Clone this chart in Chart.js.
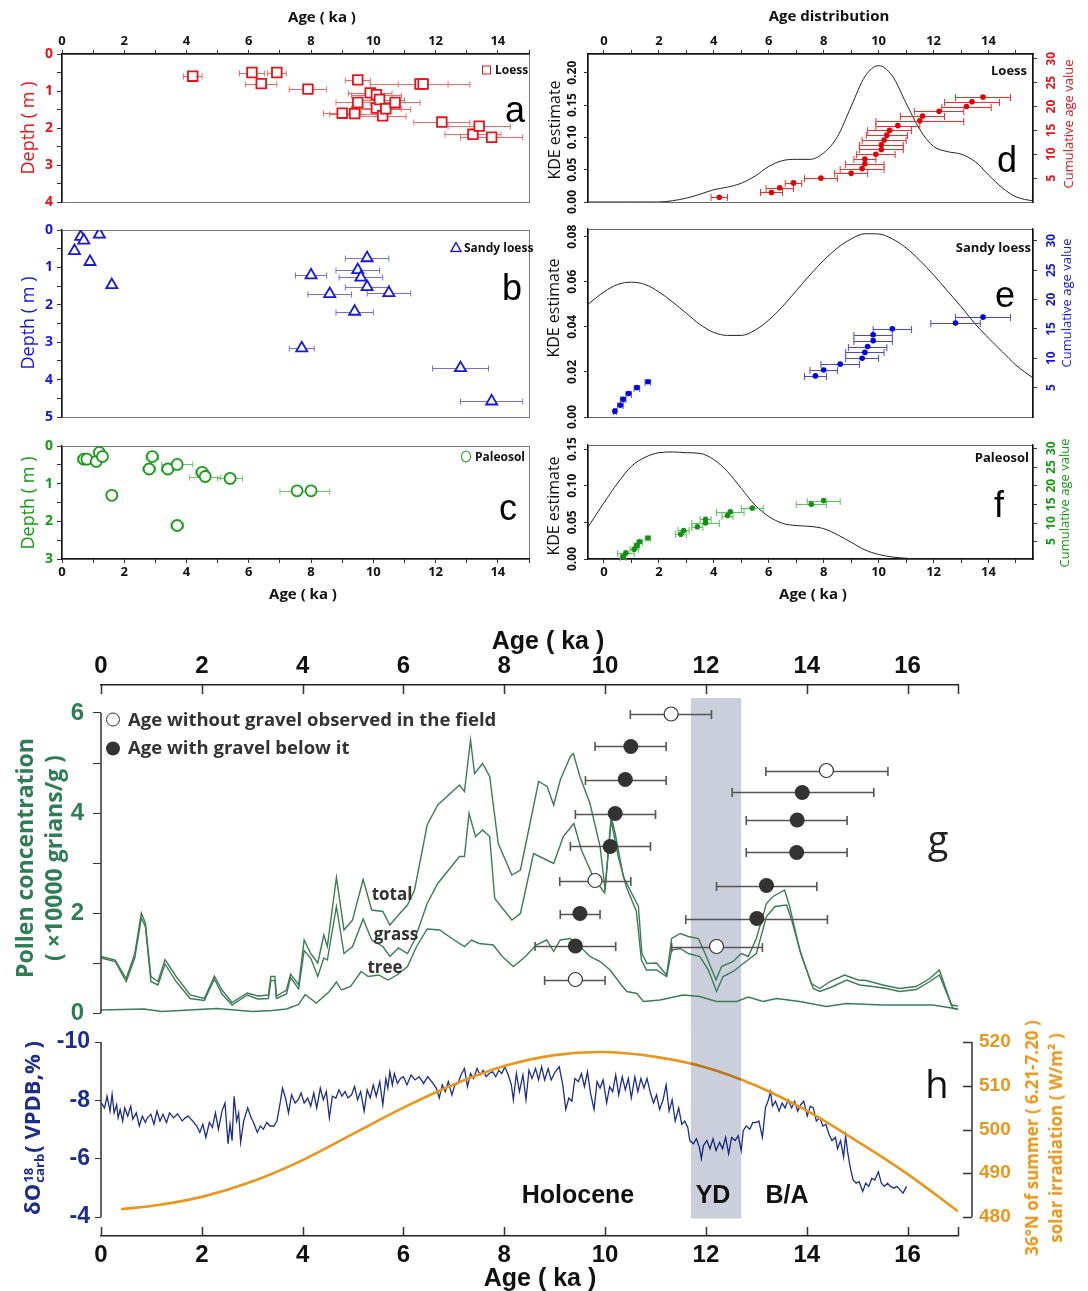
<!DOCTYPE html>
<html><head><meta charset="utf-8">
<script src="https://cdn.jsdelivr.net/npm/chart.js@4.4.1/dist/chart.umd.min.js"></script>
<style>
html,body{margin:0;padding:0;background:#fff;}
body{width:1088px;height:1291px;position:relative;overflow:hidden;font-family:'Open Sans','Noto Sans',sans-serif;color:#111;}
canvas{position:absolute;}
.t{position:absolute;white-space:nowrap;line-height:1;}
.ss{display:inline-block;vertical-align:middle;line-height:0.85;font-size:60%;text-align:left;margin:0 1px;}
</style></head><body>
<script>
// ================= DATA =================
// Panels a / d : Loess (sorted by age -> cumulative rank)
const loessAge   = [4.2,6.1,6.4,6.9,7.9,9.0,9.4,9.5,9.5,9.9,10.1,10.1,10.2,10.3,10.4,10.7,11.5,11.6,12.2,13.2,13.4,13.8];
const loessDepth = [0.60,0.50,0.80,0.50,0.95,1.60,1.61,1.31,0.70,1.05,1.10,1.46,1.23,1.67,1.48,1.31,0.81,0.81,1.84,2.17,1.95,2.25];
const loessErr   = [0.3,0.4,0.5,0.3,0.6,0.6,0.8,0.7,0.4,0.7,0.8,0.8,0.8,0.75,0.8,0.8,1.6,0.8,0.9,0.9,1.0,1.0];
const loessCum   = [1,2,3,4,5,6,7,8,9,10,11,12,13,14,15,16,17,18,19,20,21,22];
// Panels b / e : Sandy loess
const sandyAge   = [0.4,0.6,0.7,0.9,1.2,1.6,7.7,8.0,8.6,9.4,9.5,9.6,9.8,9.8,10.5,12.8,13.8];
const sandyDepth = [0.56,0.18,0.28,0.85,0.12,1.47,3.16,1.21,1.71,2.18,1.07,1.27,0.75,1.52,1.68,3.69,4.58];
const sandyErr   = [0.05,0.1,0.1,0.1,0.1,0.1,0.4,0.5,0.7,0.6,0.7,0.7,0.7,0.7,0.7,0.9,1.0];
const sandyCum   = [1,2,3,4,5,6,7,8,9,10,11,12,13,14,15,16,17];
// Panels c / f : Paleosol
const paleoAge   = [0.7,0.8,1.1,1.2,1.3,1.6,2.8,2.9,3.4,3.7,3.7,4.5,4.6,5.4,7.55,8.0];
const paleoDepth = [0.35,0.35,0.41,0.17,0.28,1.31,0.61,0.28,0.61,0.49,2.11,0.70,0.81,0.86,1.19,1.19];
const paleoErr   = [0.1,0.3,0.15,0.1,0.1,0.1,0.2,0.2,0.2,0.5,0.2,0.2,0.5,0.4,0.55,0.6];
const paleoCum   = [1,2,3,4,5,6,7,8,9,10,11,12,13,14,15,16];
// KDE curves
const kdeLoessAge = [-0.58,0,1,1.5,2,2.5,3,3.5,4,4.5,5,5.5,6,6.5,7,7.5,8,8.5,9,9.5,10,10.5,11,11.5,12,12.5,13,13.5,14,14.5,15,15.62];
const kdeLoess    = [0,0,0,0,0,0.002,0.006,0.012,0.019,0.023,0.029,0.040,0.055,0.064,0.066,0.066,0.076,0.101,0.148,0.194,0.211,0.195,0.153,0.112,0.086,0.078,0.074,0.063,0.042,0.022,0.008,0.0015];
const kdeSandyAge = [-0.58,0,0.5,1,1.5,2,2.5,3,3.5,4,4.5,5,5.5,6,6.5,7,7.5,8,8.5,9,9.5,10,10.5,11,11.5,12,12.5,13,13.5,14,14.5,15,15.62];
const kdeSandy    = [0.050,0.0555,0.0588,0.0598,0.0588,0.0555,0.051,0.046,0.041,0.0375,0.0362,0.0362,0.0385,0.043,0.049,0.056,0.063,0.0695,0.075,0.079,0.0813,0.0812,0.079,0.075,0.0695,0.063,0.056,0.049,0.0415,0.035,0.029,0.023,0.0173];
const kdePaleoAge = [-0.58,0,0.5,1,1.5,2,2.5,3,3.5,4,4.5,5,5.5,6,6.5,7,7.5,8,8.5,9,9.5,10,10.5,11,11.5,12,13,14,15,15.62];
const kdePaleo    = [0.0435,0.0767,0.1036,0.1264,0.1388,0.145,0.146,0.145,0.144,0.1357,0.1191,0.0963,0.0735,0.058,0.0487,0.0456,0.0445,0.0414,0.0331,0.0228,0.0124,0.0062,0.0027,0.001,0,0,0,0,0,0];
// Panel g : pollen concentration (x10000 grains/g) vs age (ka)
const pollenTotal = [[0.0,1.13],[0.28,1.06],[0.5,0.69],[0.67,1.19],[0.8,2.0],[0.88,1.8],[0.99,0.73],[1.13,0.63],[1.27,1.07],[1.49,0.73],[1.77,0.36],[2.05,0.29],[2.25,0.74],[2.4,0.46],[2.6,0.21],[2.9,0.40],[3.11,0.34],[3.32,0.36],[3.37,0.73],[3.45,0.73],[3.48,0.34],[3.68,0.46],[3.76,0.78],[3.92,0.56],[4.03,1.46],[4.16,1.19],[4.3,1.0],[4.42,1.56],[4.49,1.33],[4.67,2.71],[4.82,1.66],[4.99,1.86],[5.2,2.67],[5.37,2.06],[5.59,2.03],[5.73,1.76],[5.9,1.96],[6.08,2.16],[6.22,2.46],[6.47,3.76],[6.68,4.16],[7.11,4.56],[7.21,4.43],[7.33,5.46],[7.41,4.79],[7.57,4.99],[7.71,4.73],[7.88,3.39],[8.15,2.76],[8.32,2.86],[8.51,3.79],[8.68,4.63],[8.85,4.53],[8.98,4.16],[9.11,4.66],[9.31,5.13],[9.37,5.19],[9.5,4.73],[9.7,4.19],[9.9,3.33],[10.0,2.46],[10.12,3.93],[10.2,3.59],[10.36,2.73],[10.53,2.39],[10.66,2.13],[10.73,1.19],[10.83,0.99],[11.02,1.0],[11.22,0.76],[11.32,1.49],[11.49,1.59],[11.65,1.53],[11.85,1.49],[12.01,1.13],[12.2,0.66],[12.31,0.93],[12.54,1.03],[12.7,1.19],[12.84,1.13],[13.0,1.49],[13.2,2.19],[13.33,2.33],[13.56,2.46],[13.66,2.13],[13.86,1.26],[14.09,0.59],[14.26,0.49],[14.46,0.63],[14.75,0.76],[15.02,0.66],[15.18,0.65],[15.51,0.56],[15.84,0.49],[16.17,0.53],[16.44,0.69],[16.63,0.86],[16.7,0.66],[16.87,0.16],[17.0,0.14]];
const pollenGrass = [[0.0,1.10],[0.28,1.03],[0.5,0.63],[0.67,1.10],[0.8,1.90],[0.88,1.73],[0.99,0.63],[1.13,0.56],[1.27,0.98],[1.49,0.63],[1.77,0.29],[2.05,0.25],[2.25,0.68],[2.4,0.38],[2.6,0.16],[2.9,0.36],[3.11,0.28],[3.32,0.29],[3.37,0.65],[3.45,0.65],[3.48,0.29],[3.68,0.38],[3.76,0.71],[3.92,0.48],[4.03,1.25],[4.16,1.10],[4.3,0.73],[4.42,1.10],[4.49,1.06],[4.67,2.13],[4.82,1.19],[4.99,1.33],[5.2,1.88],[5.37,1.46],[5.59,1.33],[5.73,1.13],[5.9,1.30],[6.08,1.19],[6.22,1.46],[6.47,2.19],[6.68,2.59],[7.11,3.13],[7.21,3.13],[7.3,3.99],[7.43,3.53],[7.57,3.66],[7.71,3.53],[7.81,2.29],[8.15,1.86],[8.32,1.99],[8.58,3.19],[8.78,3.09],[8.98,2.99],[9.17,3.53],[9.38,3.79],[9.53,3.26],[9.76,2.73],[9.99,2.40],[10.12,3.85],[10.26,3.13],[10.42,2.53],[10.62,2.03],[10.72,1.06],[10.82,0.86],[11.02,0.86],[11.22,0.73],[11.32,1.26],[11.49,1.29],[11.65,1.19],[11.88,1.13],[12.05,0.86],[12.21,0.43],[12.34,0.73],[12.54,0.83],[12.74,0.99],[13.0,1.19],[13.2,1.93],[13.37,2.13],[13.6,2.16],[13.7,1.86],[13.9,1.13],[14.13,0.49],[14.26,0.43],[14.52,0.53],[14.79,0.66],[15.05,0.56],[15.31,0.53],[15.58,0.49],[15.84,0.43],[16.17,0.47],[16.44,0.63],[16.63,0.76],[16.7,0.59],[16.9,0.09],[17.0,0.08]];
const pollenTree = [[0.0,0.06],[0.85,0.08],[1.2,0.03],[2.3,0.09],[3.0,0.03],[3.4,0.05],[3.68,0.08],[3.92,0.17],[4.05,0.37],[4.27,0.20],[4.52,0.42],[4.67,0.62],[4.77,0.46],[4.95,0.53],[5.16,0.83],[5.30,0.73],[5.51,0.76],[5.69,0.66],[5.87,0.76],[6.08,0.93],[6.26,1.33],[6.47,1.68],[6.72,1.66],[6.96,1.49],[7.21,1.33],[7.35,1.46],[7.50,1.39],[7.78,1.36],[7.96,1.13],[8.18,0.93],[8.42,1.13],[8.63,1.36],[8.84,1.46],[8.98,1.23],[9.11,1.46],[9.31,1.49],[9.50,1.33],[9.70,1.13],[9.90,1.03],[10.10,0.86],[10.30,0.59],[10.43,0.43],[10.63,0.39],[10.76,0.23],[11.09,0.26],[11.55,0.36],[11.88,0.33],[12.21,0.23],[12.61,0.23],[12.84,0.32],[13.13,0.23],[13.40,0.29],[13.86,0.23],[14.39,0.13],[14.79,0.19],[15.51,0.16],[16.50,0.16],[17.0,0.08]];
// Panel g : dated samples (age, plotting level, error range)
const openAge  = [11.31,14.39,9.80,12.21,9.41];
const openY    = [5.98,4.85,2.65,1.33,0.67];
const openLo   = [10.50,13.19,9.10,11.32,8.80];
const openHi   = [12.11,15.61,10.51,13.12,10.00];
const fillAge  = [10.51,10.40,10.20,10.10,9.50,9.41,13.91,13.81,13.80,13.20,13.01];
const fillY    = [5.33,4.67,3.99,3.33,1.99,1.34,4.41,3.86,3.21,2.55,1.89];
const fillLo   = [9.80,9.61,9.41,9.31,9.11,8.61,12.52,12.80,12.80,12.21,11.60];
const fillHi   = [11.21,11.21,11.00,10.90,9.90,10.21,15.33,14.80,14.80,14.20,14.41];
const ydBand   = [11.7,12.7];
// Panel h : d18O carb (VPDB) and 36N summer insolation
const d18O = [[0.01,-7.91],[0.07,-7.74],[0.12,-8.14],[0.18,-7.63],[0.22,-8.21],[0.26,-7.57],[0.31,-7.85],[0.34,-7.40],[0.38,-7.69],[0.43,-7.29],[0.47,-7.74],[0.53,-7.46],[0.59,-7.80],[0.63,-7.35],[0.70,-7.57],[0.76,-7.12],[0.82,-7.46],[0.88,-7.24],[0.92,-7.40],[0.99,-7.52],[1.05,-7.18],[1.11,-7.63],[1.17,-7.29],[1.23,-7.52],[1.30,-7.24],[1.36,-7.57],[1.44,-7.40],[1.52,-7.54],[1.61,-7.29],[1.67,-7.40],[1.73,-7.46],[1.82,-7.29],[1.90,-7.12],[1.96,-6.90],[2.02,-7.18],[2.08,-6.73],[2.15,-7.24],[2.21,-7.07],[2.27,-7.57],[2.33,-7.01],[2.40,-7.63],[2.46,-7.91],[2.52,-6.51],[2.56,-7.18],[2.60,-6.62],[2.64,-8.14],[2.69,-7.29],[2.73,-7.57],[2.77,-6.56],[2.83,-7.29],[2.91,-7.74],[2.98,-7.40],[3.04,-7.18],[3.10,-6.90],[3.16,-7.12],[3.22,-7.01],[3.29,-7.24],[3.35,-7.12],[3.43,-7.12],[3.49,-7.29],[3.56,-7.97],[3.60,-8.42],[3.66,-8.08],[3.72,-7.57],[3.78,-8.19],[3.85,-7.91],[3.91,-8.02],[3.97,-8.25],[4.03,-7.91],[4.10,-8.08],[4.16,-7.80],[4.22,-8.25],[4.28,-7.74],[4.35,-8.42],[4.41,-8.02],[4.47,-8.30],[4.53,-7.40],[4.59,-8.14],[4.66,-8.08],[4.72,-8.36],[4.78,-8.14],[4.84,-8.30],[4.90,-8.08],[4.97,-8.19],[5.03,-8.47],[5.09,-8.02],[5.15,-8.30],[5.22,-7.63],[5.28,-8.36],[5.34,-8.08],[5.40,-8.53],[5.46,-8.14],[5.53,-8.64],[5.59,-7.85],[5.65,-8.75],[5.69,-8.42],[5.73,-8.98],[5.78,-8.53],[5.82,-8.92],[5.88,-8.58],[5.94,-8.75],[6.00,-8.81],[6.07,-8.53],[6.15,-8.87],[6.23,-8.70],[6.31,-8.81],[6.40,-8.58],[6.48,-8.81],[6.56,-8.64],[6.65,-8.42],[6.71,-8.08],[6.77,-8.53],[6.83,-8.30],[6.89,-8.64],[6.96,-8.19],[7.02,-8.53],[7.08,-8.58],[7.14,-8.87],[7.21,-9.09],[7.27,-8.47],[7.33,-8.92],[7.39,-8.75],[7.46,-9.09],[7.52,-8.87],[7.58,-9.03],[7.64,-8.81],[7.70,-8.92],[7.77,-8.98],[7.83,-8.81],[7.89,-9.03],[7.95,-8.92],[8.01,-9.15],[8.08,-8.87],[8.14,-8.53],[8.18,-8.02],[8.24,-8.92],[8.30,-8.30],[8.37,-8.87],[8.43,-8.02],[8.49,-9.03],[8.55,-8.75],[8.62,-9.09],[8.68,-8.70],[8.74,-9.15],[8.80,-8.70],[8.87,-9.09],[8.93,-8.70],[9.01,-8.98],[9.09,-9.15],[9.16,-8.53],[9.22,-7.69],[9.28,-8.08],[9.34,-7.97],[9.40,-8.75],[9.47,-8.64],[9.53,-8.92],[9.59,-8.47],[9.65,-8.98],[9.71,-8.25],[9.78,-7.69],[9.84,-8.64],[9.90,-8.42],[9.96,-8.70],[10.03,-7.91],[10.09,-8.47],[10.15,-8.30],[10.21,-8.87],[10.27,-8.19],[10.34,-8.81],[10.40,-8.36],[10.46,-8.75],[10.52,-8.08],[10.59,-8.81],[10.65,-8.30],[10.71,-8.75],[10.77,-8.42],[10.83,-8.75],[10.90,-8.25],[10.96,-7.91],[11.02,-8.19],[11.08,-7.69],[11.15,-8.02],[11.21,-8.53],[11.27,-7.63],[11.33,-8.02],[11.39,-7.29],[11.46,-7.74],[11.52,-7.18],[11.58,-7.29],[11.64,-7.07],[11.68,-6.62],[11.75,-6.51],[11.81,-6.68],[11.87,-6.39],[11.91,-6.00],[11.95,-6.45],[12.02,-6.62],[12.08,-6.34],[12.14,-6.68],[12.20,-6.28],[12.27,-6.56],[12.33,-6.34],[12.39,-6.73],[12.45,-6.17],[12.51,-6.73],[12.58,-6.62],[12.64,-6.79],[12.70,-6.28],[12.74,-6.96],[12.80,-7.12],[12.87,-7.01],[12.93,-7.24],[12.99,-7.24],[13.05,-7.29],[13.12,-6.73],[13.18,-7.74],[13.24,-8.02],[13.28,-8.30],[13.32,-7.80],[13.38,-7.97],[13.45,-7.63],[13.51,-7.91],[13.57,-7.74],[13.63,-8.02],[13.70,-7.74],[13.76,-7.97],[13.82,-7.63],[13.88,-7.85],[13.94,-7.97],[14.01,-7.46],[14.07,-7.80],[14.13,-7.74],[14.19,-7.29],[14.26,-7.40],[14.32,-7.12],[14.38,-7.18],[14.44,-6.84],[14.50,-6.62],[14.57,-6.73],[14.61,-6.34],[14.67,-6.62],[14.73,-6.06],[14.77,-6.79],[14.81,-6.24],[14.86,-5.72],[14.92,-5.27],[14.98,-5.16],[15.04,-5.21],[15.11,-4.88],[15.17,-5.16],[15.23,-5.05],[15.29,-5.33],[15.35,-5.27],[15.42,-5.55],[15.48,-5.16],[15.54,-5.05],[15.60,-5.16],[15.66,-5.05],[15.73,-4.99],[15.79,-5.05],[15.85,-4.93],[15.91,-4.82],[15.98,-5.05]];
const insolAge = [0.4,1,2,3,4,5,6,7,8,9,10,11,12,13,14,15,16,17];
const insolVal = [481.8,482.5,484.6,488.1,493.0,499.0,505.0,510.3,514.5,517.0,517.7,516.6,514.2,510.0,504.3,497.3,489.8,481.3];
// Tick values
const ticksAge15 = [0,1,2,3,4,5,6,7,8,9,10,11,12,13,14,15];
const labAge14   = [0,2,4,6,8,10,12,14];
const ticksDepthA = [0,0.5,1,1.5,2,2.5,3,3.5,4];
const ticksDepthB = [0,0.5,1,1.5,2,2.5,3,3.5,4,4.5,5];
const ticksDepthC = [0,0.5,1,1.5,2,2.5,3];
const labDepth    = [0,1,2,3,4,5];
const kdeTicksD = [0,0.05,0.10,0.15,0.20];
const kdeTicksE = [0,0.02,0.04,0.06,0.08];
const kdeTicksF = [0,0.05,0.10,0.15];
const cumTicks  = [5,10,15,20,25,30];
const gAgeTicks = [0,2,4,6,8,10,12,14,16];
const gTickMarks = [0,2,4,6,8,10,12,14,16,17];
const pollenTicks = [0,1,2,3,4,5,6];
const pollenLabels = [0,2,4,6];
const d18Ticks = [-10,-8,-6,-4];
const insolTicks = [480,490,500,510,520];

// ================= STYLE / HELPERS =================
const F  = "'Open Sans','Noto Sans',sans-serif";
const FA = "'Liberation Sans',Arial,sans-serif";
const RED='#e5141b', BLUE='#1717dd', GREEN='#169a16';
const PG='#3b7b58', DBLUE='#1c2d8a', ORANGE='#e8961c', BAND='#cbcfdb';

function mkCanvas(r){ const c=document.createElement('canvas'); c.width=r[2]; c.height=r[3];
  Object.assign(c.style,{left:r[0]+'px',top:r[1]+'px',width:r[2]+'px',height:r[3]+'px'}); document.body.appendChild(c); return c; }
function txt(html,x,y,css,opt){ opt=opt||{}; const d=document.createElement('div'); d.className='t'; d.innerHTML=html;
  d.style.cssText+=css; d.style.left=x+'px'; d.style.top=y+'px';
  const ax = opt.align==='left'?'0':opt.align==='right'?'-100%':'-50%';
  d.style.transform='translate('+ax+',-50%)'+(opt.rot?' rotate(-90deg)':''); if(opt.rot) d.style.textAlign='center';
  document.body.appendChild(d); return d; }
const fit = n => s => { if (s.isHorizontal()) s.height=n; else s.width=n; s.paddingLeft=0; s.paddingRight=0; s.paddingTop=0; s.paddingBottom=0; };
const useTicks = arr => s => { s.ticks = arr.map(v=>({value:v})); };
const labelIf = (arr,dg) => v => { const h=arr.find(a=>Math.abs(a-v)<1e-9); return h===undefined?'':(dg!=null?h.toFixed(dg):String(h)); };
const pts = (xs,ys) => xs.map((x,i)=>({x:x,y:ys[i]}));
const pairs = arr => arr.map(p=>({x:p[0],y:p[1]}));
const lo = (a,e) => a.map((v,i)=>v-e[i]);
const hi = (a,e) => a.map((v,i)=>v+e[i]);

function ax(o){
  return { type:'linear', position:o.pos, min:o.min, max:o.max, reverse:!!o.reverse,
    afterBuildTicks: useTicks(o.ticks||[]), afterFit: fit(o.size),
    grid:{display:true, drawOnChartArea:false, drawTicks:!!o.tickLen, tickLength:o.tickLen||0, color:o.tickColor||'#333', tickColor:o.tickColor||'#333', lineWidth:1},
    border:{display:!!o.border, color:o.border||'#000', width:o.borderWidth||1.2},
    ticks:{display:!!o.labels, callback:o.labels||(()=>''), color:o.color||'#111',
      font:{family:o.family||F, size:o.fontSize||13, weight:'bold'}, padding:o.pad==null?3:o.pad,
      maxRotation:0, minRotation:0, autoSkip:false, includeBounds:false} };
}
const errorBars = { id:'errorBars',
  beforeDatasetDraw(chart,args){ const ds=chart.data.datasets[args.index]; if(!ds.errLo) return;
    const ctx=chart.ctx, meta=args.meta, xs=chart.scales[meta.xAxisID], ys=chart.scales[meta.yAxisID];
    ctx.save(); ctx.strokeStyle=ds.errColor; ctx.lineWidth=ds.errWidth||1;
    ds.data.forEach((p,j)=>{ const y=Math.round(ys.getPixelForValue(p.y))+0.5;
      const x1=xs.getPixelForValue(ds.errLo[j]), x2=xs.getPixelForValue(ds.errHi[j]), c=ds.errCap||3;
      ctx.beginPath(); ctx.moveTo(x1,y); ctx.lineTo(x2,y);
      ctx.moveTo(x1,y-c); ctx.lineTo(x1,y+c); ctx.moveTo(x2,y-c); ctx.lineTo(x2,y+c); ctx.stroke(); });
    ctx.restore(); } };
const framePlugin = col => ({ id:'frame', beforeDraw(chart){ const a=chart.chartArea, ctx=chart.ctx;
  ctx.save(); ctx.strokeStyle=col; ctx.lineWidth=1; ctx.strokeRect(Math.round(a.left)+0.5,Math.round(a.top)+0.5,Math.round(a.right-a.left),Math.round(a.bottom-a.top)); ctx.restore(); } });
const rotTicks = items => ({ id:'rotTicks', afterDraw(chart){ const ctx=chart.ctx, a=chart.chartArea;
  items.forEach(it=>{ const s=chart.scales[it.scale]; ctx.save(); ctx.fillStyle=it.color; ctx.font=it.font; ctx.textAlign='center'; ctx.textBaseline='middle';
    const x = it.side==='left' ? a.left-it.off : a.right+it.off;
    it.values.forEach(v=>{ const y=s.getPixelForValue(v); ctx.save(); ctx.translate(x,y); ctx.rotate(-Math.PI/2); ctx.fillText(v.toFixed(it.dg),0,0); ctx.restore(); });
    ctx.restore(); }); } });

function makeChart(rect, padding, scales, datasets, plugins){
  return new Chart(mkCanvas(rect), { type:'scatter', data:{datasets:datasets},
    options:{ responsive:false, animation:false, devicePixelRatio:1, events:[],
      layout:{padding:Object.assign({left:0,right:0,top:0,bottom:0},padding)},
      plugins:{legend:{display:false}, tooltip:{enabled:false}}, scales:scales },
    plugins:[errorBars].concat(plugins||[]) });
}
const hiddenX = (pos,size,min,max) => ({type:'linear',position:pos,min:min,max:max,afterFit:fit(size),grid:{display:false},border:{display:false},ticks:{display:false}});
const ptSet = (xs,ys,es,style,r,col,errCol,filled) => ({ data:pts(xs,ys), pointStyle:style, pointRadius:r, borderColor:col, borderWidth:filled?0:1.8,
  backgroundColor:filled?col:'#fff', errLo:lo(xs,es), errHi:hi(xs,es), errColor:errCol, errCap:filled?3.5:3, order:1 });
const kdeSet = (xs,ys) => ({ data:pts(xs,ys), showLine:true, pointRadius:0, borderColor:'#222', borderWidth:1, cubicInterpolationMode:'monotone', order:2 });

// ================= PANELS a, b, c =================
makeChart([0,0,540,215], {right:11,bottom:13}, {
  x: ax({pos:'top',min:0,max:15,ticks:ticksAge15,labels:labelIf(labAge14),size:54,tickLen:4,border:'#111',pad:1,fontSize:13}),
  y: ax({pos:'left',min:0,max:4,reverse:true,ticks:ticksDepthA,labels:labelIf(labDepth),size:62,tickLen:5,border:'#111',pad:4,fontSize:14,color:RED})
}, [ptSet(loessAge,loessDepth,loessErr,'rect',6.8,RED,'#e86a6a',false)], [framePlugin('#777')]);

makeChart([0,215,540,225], {right:11,bottom:23}, {
  x: hiddenX('top',15,0,15),
  y: ax({pos:'left',min:0,max:5,reverse:true,ticks:ticksDepthB,labels:labelIf(labDepth),size:62,tickLen:5,border:'#111',pad:4,fontSize:14,color:BLUE})
}, [ptSet(sandyAge,sandyDepth,sandyErr,'triangle',6.4,BLUE,'#7070d8',false)], [framePlugin('#777')]);

makeChart([0,425,540,185], {right:11,top:21}, {
  x: ax({pos:'bottom',min:0,max:15,ticks:ticksAge15,labels:labelIf(labAge14),size:51,tickLen:4,border:'#111',pad:1,fontSize:13}),
  y: ax({pos:'left',min:0,max:3,reverse:true,ticks:ticksDepthC,labels:labelIf(labDepth),size:62,tickLen:5,border:'#111',pad:4,fontSize:14,color:GREEN})
}, [ptSet(paleoAge,paleoDepth,paleoErr,'circle',5.5,GREEN,'#6cc46c',false)], [framePlugin('#777')]);

// ================= PANELS d, e, f =================
const dx = (pos,size,show) => show ? ax({pos:pos,min:-0.58,max:15.62,ticks:ticksAge15,labels:labelIf(labAge14),size:size,tickLen:4,border:'#111',pad:1,fontSize:13}) : hiddenX(pos,size,-0.58,15.62);
makeChart([540,0,548,225], {bottom:23}, {
  x: dx('top',54,true),
  y: ax({pos:'left',min:0,max:0.229,ticks:kdeTicksD,size:48,tickLen:4,border:'#111'}),
  y2: ax({pos:'right',min:0,max:31,ticks:cumTicks,size:55,tickLen:4,border:'#111'})
}, [ Object.assign(ptSet(loessAge,loessCum,loessErr,'circle',2.8,'#e00000','#e83030',true),{yAxisID:'y2'}), kdeSet(kdeLoessAge,kdeLoess) ],
 [framePlugin('#666'), rotTicks([{scale:'y',side:'left',off:15,values:kdeTicksD,dg:2,color:'#111',font:'bold 12px '+F},{scale:'y2',side:'right',off:19,values:cumTicks,dg:0,color:RED,font:'bold 12px '+F}])]);

makeChart([540,215,548,225], {bottom:23}, {
  x: dx('top',14,false),
  y: ax({pos:'left',min:0,max:0.0834,ticks:kdeTicksE,size:48,tickLen:4,border:'#111'}),
  y2: ax({pos:'right',min:0,max:32,ticks:cumTicks,size:55,tickLen:4,border:'#111'})
}, [ Object.assign(ptSet(sandyAge,sandyCum,sandyErr,'circle',2.8,'#0000e0','#4a4ad8',true),{yAxisID:'y2'}), kdeSet(kdeSandyAge,kdeSandy) ],
 [framePlugin('#666'), rotTicks([{scale:'y',side:'left',off:15,values:kdeTicksE,dg:2,color:'#111',font:'bold 12px '+F},{scale:'y2',side:'right',off:19,values:cumTicks,dg:0,color:BLUE,font:'bold 12px '+F}])]);

makeChart([540,425,548,185], {top:20}, {
  x: dx('bottom',51,true),
  y: ax({pos:'left',min:0,max:0.1555,ticks:kdeTicksF,size:48,tickLen:4,border:'#111'}),
  y2: ax({pos:'right',min:0.36,max:30.9,ticks:cumTicks,size:55,tickLen:4,border:'#111'})
}, [ Object.assign(ptSet(paleoAge,paleoCum,paleoErr,'circle',2.8,'#139013','#5cc05c',true),{yAxisID:'y2'}), kdeSet(kdePaleoAge,kdePaleo) ],
 [framePlugin('#666'), rotTicks([{scale:'y',side:'left',off:15,values:kdeTicksF,dg:2,color:'#111',font:'bold 12px '+F},{scale:'y2',side:'right',off:19,values:cumTicks,dg:0,color:GREEN,font:'bold 12px '+F}])]);

// ================= PANEL g =================
const gPlugin = { id:'gAxes',
  beforeDatasetsDraw(ch){ const ctx=ch.ctx, x=ch.scales.x, y=ch.scales.y; const x1=x.getPixelForValue(ydBand[0]), x2=x.getPixelForValue(ydBand[1]), yt=y.getPixelForValue(6.3);
    ctx.save(); ctx.fillStyle=BAND; ctx.fillRect(x1,yt,x2-x1,ch.height-yt); ctx.restore(); },
  afterDraw(ch){ const ctx=ch.ctx, x=ch.scales.x, y=ch.scales.y, a=ch.chartArea; ctx.save(); ctx.strokeStyle='#333'; ctx.lineWidth=1.5;
    ctx.beginPath(); ctx.moveTo(a.left,y.getPixelForValue(0)); ctx.lineTo(a.left,y.getPixelForValue(6));
    gTickMarks.forEach(v=>{ const px=Math.round(x.getPixelForValue(v))+0.5; ctx.moveTo(px,a.top); ctx.lineTo(px,a.top+9); });
    ctx.stroke(); ctx.restore(); } };
const lineSet = (arr,col,w,extra) => Object.assign({ data:pairs(arr), showLine:true, pointRadius:0, borderColor:col, borderWidth:w, tension:0, order:3 }, extra||{});
makeChart([0,600,1088,430], {right:130,bottom:17}, {
  x: ax({pos:'top',min:0,max:17,ticks:gAgeTicks,labels:labelIf(gAgeTicks),size:85,border:'#222',borderWidth:1.5,pad:4,fontSize:24,family:FA}),
  y: ax({pos:'left',min:0,max:6.56,ticks:pollenTicks,labels:labelIf(pollenLabels),size:101,tickLen:8,pad:9,fontSize:24,family:FA,color:'#2e7d55'})
}, [
  { data:pts(openAge,openY), pointStyle:'circle', pointRadius:7, borderColor:'#333', borderWidth:1.2, backgroundColor:'#fff', errLo:openLo, errHi:openHi, errColor:'#555', errWidth:1.6, errCap:4.5, order:1 },
  { data:pts(fillAge,fillY), pointStyle:'circle', pointRadius:7.5, borderColor:'#333', borderWidth:0, backgroundColor:'#333', errLo:fillLo, errHi:fillHi, errColor:'#555', errWidth:1.6, errCap:4.5, order:1 },
  lineSet(pollenTotal,PG,1.4), lineSet(pollenGrass,PG,1.4), lineSet(pollenTree,PG,1.4)
], [gPlugin]);

// ================= PANEL h =================
const hPlugin = { id:'hAxes',
  afterDatasetsDraw(ch){ const ctx=ch.ctx, x=ch.scales.x, y=ch.scales.y; const x1=x.getPixelForValue(ydBand[0]), x2=x.getPixelForValue(ydBand[1]), yb=y.getPixelForValue(-3.95);
    ctx.save(); ctx.globalCompositeOperation='multiply'; ctx.fillStyle=BAND; ctx.fillRect(x1,0,x2-x1,yb); ctx.restore(); },
  afterDraw(ch){ const ctx=ch.ctx, x=ch.scales.x, y=ch.scales.y, y2=ch.scales.y2, a=ch.chartArea; ctx.save(); ctx.strokeStyle='#333'; ctx.lineWidth=1.5; ctx.beginPath();
    ctx.moveTo(a.left,y.getPixelForValue(-10)); ctx.lineTo(a.left,y.getPixelForValue(-4));
    const rx=a.right+14; ctx.moveTo(rx,y2.getPixelForValue(520)); ctx.lineTo(rx,y2.getPixelForValue(480));
    insolTicks.forEach(v=>{ const py=Math.round(y2.getPixelForValue(v))+0.5; ctx.moveTo(rx,py); ctx.lineTo(rx-9,py); });
    gTickMarks.forEach(v=>{ const px=Math.round(x.getPixelForValue(v))+0.5; ctx.moveTo(px,a.bottom); ctx.lineTo(px,a.bottom-9); });
    ctx.stroke(); ctx.restore(); } };
makeChart([0,1030,1088,261], {top:12}, {
  x: ax({pos:'bottom',min:0,max:17,ticks:gAgeTicks,labels:labelIf(gAgeTicks),size:55,border:'#222',borderWidth:1.5,pad:5,fontSize:24,family:FA}),
  y: ax({pos:'left',min:-10,max:-3.35,reverse:true,ticks:d18Ticks,labels:labelIf(d18Ticks),size:101,tickLen:6,pad:5,fontSize:23,family:FA,color:DBLUE}),
  y2: ax({pos:'right',min:475.66,max:520,ticks:insolTicks,labels:labelIf(insolTicks),size:130,pad:21,fontSize:19,family:FA,color:ORANGE})
}, [
  { data:pts(insolAge,insolVal), yAxisID:'y2', showLine:true, pointRadius:0, borderColor:ORANGE, borderWidth:2.6, tension:0.4, order:1 },
  lineSet(d18O,DBLUE,1.3,{yAxisID:'y',order:2})
], [hPlugin]);

// ================= TEXT =================
const B15='font:bold 15px '+F+';';
txt('Age ( ka )',322,16,B15);
txt('Depth ( m )',27,128,'font:500 18px '+F+';color:'+RED,{rot:1});
txt('Depth ( m )',27,323,'font:500 18px '+F+';color:'+BLUE,{rot:1});
txt('Depth ( m )',27,503,'font:500 18px '+F+';color:'+GREEN,{rot:1});
txt('Age ( ka )',303,593,B15);
txt('<span style="display:inline-block;width:7px;height:7px;border:1.6px solid '+RED+';vertical-align:-1px;margin-right:4px"></span>Loess',482,69,'font:bold 12px '+F,{align:'left'});
txt('<svg width="12" height="11" style="vertical-align:-1px;margin-right:2px"><polygon points="6,1 11,10 1,10" fill="#fff" stroke="'+BLUE+'" stroke-width="1.5"/></svg>Sandy loess',450,247,'font:bold 12px '+F,{align:'left'});
txt('<span style="display:inline-block;width:8px;height:10px;border:1.5px solid '+GREEN+';border-radius:50%;vertical-align:-2px;margin-right:4px"></span>Paleosol',461,456,'font:bold 12px '+F,{align:'left'});
const LET='font:36px '+FA+';color:#000;';
txt('a',515,110,LET); txt('b',512,288,LET); txt('c',508,508,LET);
txt('Age distribution',829,15,B15);
txt('KDE estimate',554,130,'font:16px '+F,{rot:1});
txt('KDE estimate',553,308,'font:16px '+F,{rot:1});
txt('KDE estimate',553,506,'font:16px '+F,{rot:1});
txt('Cumulative age value',1068,124,'font:13px '+F+';color:'+RED,{rot:1});
txt('Cumulative age value',1066,303,'font:13px '+F+';color:'+BLUE,{rot:1});
txt('Cumulative age value',1064,503,'font:13px '+F+';color:'+GREEN,{rot:1});
txt('Loess',1027,70,'font:bold 13px '+F,{align:'right'});
txt('Sandy loess',1031,247,'font:bold 13px '+F,{align:'right'});
txt('Paleosol',1029,457,'font:bold 13px '+F,{align:'right'});
txt('d',1007,160,LET); txt('e',1005,295,LET); txt('f',999,505,LET);
txt('Age ( ka )',813,593,B15);
// g / h
txt('Age ( ka )',548,640,'font:bold 25px '+FA);
txt('Pollen concentration<br>( ×10000 grians/g )',39,858,'font:bold 23px '+F+';color:#2e7d55;line-height:29px',{rot:1});
txt('<span style="display:inline-block;width:12px;height:12px;border:1.3px solid #333;border-radius:50%;background:#fff;vertical-align:-1px;margin-right:8px"></span>Age without gravel observed in the field',106,718,'font:bold 18.5px '+F+';color:#333',{align:'left'});
txt('<span style="display:inline-block;width:14px;height:14px;border-radius:50%;background:#333;vertical-align:-2px;margin-right:8px"></span>Age with gravel below it',106,746,'font:bold 18.5px '+F+';color:#333',{align:'left'});
txt('total',392,893,'font:bold 17px '+F+';color:#333');
txt('grass',396,933,'font:bold 17px '+F+';color:#333');
txt('tree',385,966,'font:bold 17px '+F+';color:#333');
txt('g',938,838,'font:38px '+F+';color:#222');
txt('h',937,1083,'font:38px '+F+';color:#111');
txt('δO<span class="ss">18<br>carb</span>( VPDB,% )',31,1128,'font:bold 22px '+F+';color:'+DBLUE,{rot:1});
txt('36°N of summer ( 6.21-7.20 )<br>solar irradiation ( W/m² )',1044,1138,'font:bold 17px '+F+';color:'+ORANGE+';line-height:24px',{rot:1});
txt('Holocene',578,1194,'font:bold 25px '+FA);
txt('YD',713,1194,'font:bold 25px '+FA);
txt('B/A',787,1194,'font:bold 25px '+FA);
txt('Age ( ka )',540,1277,'font:bold 25px '+FA);
</script></body></html>
